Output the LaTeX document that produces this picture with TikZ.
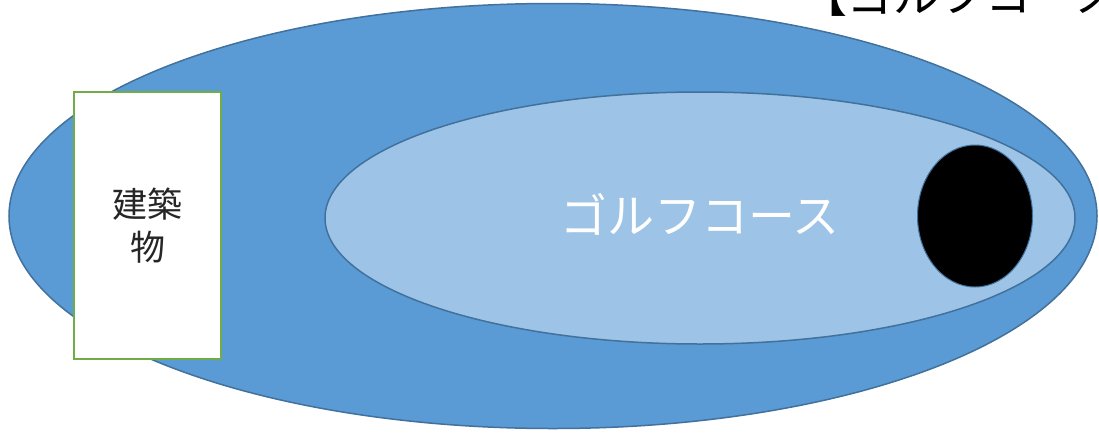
\documentclass[tikz,border=0pt]{standalone}
\usepackage{fontspec}
\usetikzlibrary{shapes.geometric}
\newfontfamily\cjk{Noto Sans CJK JP}
\definecolor{outerblue}{HTML}{5B9BD5}
\definecolor{outerline}{HTML}{41719C}
\definecolor{innerblue}{HTML}{9DC3E6}
\definecolor{boxgreen}{HTML}{70AD47}
\tikzset{
  zone/.style={draw=outerline, line width=1.5pt},
  bldg/.style={draw=boxgreen, fill=white, line width=2pt, align=center, font=\cjk\fontsize{35}{43}\selectfont, text=black!85}
}
\begin{document}
\begin{tikzpicture}[x=1pt,y=-1pt]
\useasboundingbox (0,0) rectangle (1099,434);
\clip (0,0) rectangle (1099,434);
\fill[white] (0,0) rectangle (1099,434);
\node[zone, ellipse, fill=outerblue, minimum width=1088pt, minimum height=425pt, inner sep=0pt] (outer) at (553,216) {};
\node[zone, ellipse, fill=innerblue, minimum width=750pt, minimum height=252pt, inner sep=0pt] (inner) at (700,218) {};
\node[ellipse, fill=black, draw=outerline, line width=1pt, minimum width=115pt, minimum height=142pt, inner sep=0pt] (hole) at (975,216) {};
\node[anchor=center, text=white, font=\cjk\fontsize{47}{50}\selectfont] (course) at (700,214) {ゴルフコース};
\node[bldg, minimum width=147pt, minimum height=267pt, inner sep=0pt] (building) at (147.5,225.5) {建築\\物};
\node[anchor=west, text=black, font=\cjk\fontsize{46}{50}\selectfont] (title) at (798,-5) {【ゴルフコース};
\end{tikzpicture}
\end{document}
